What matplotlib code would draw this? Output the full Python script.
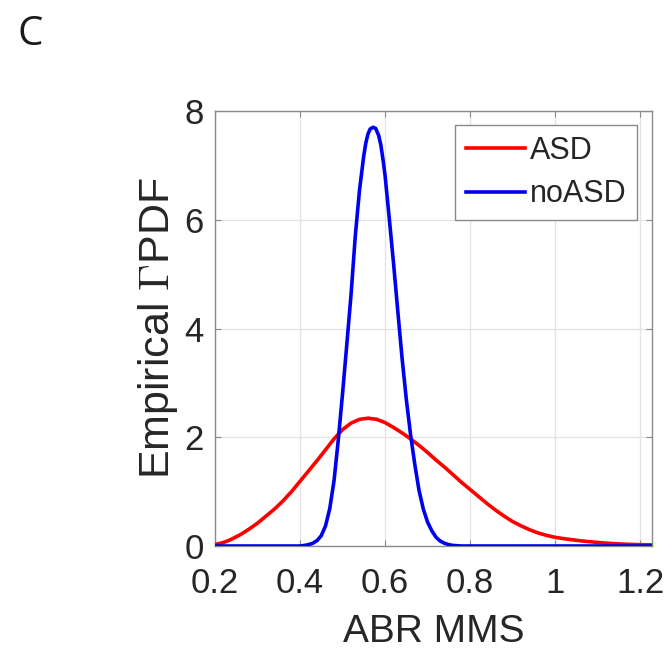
import matplotlib
matplotlib.use("Agg")
import matplotlib.pyplot as plt

# ---- data ----
asd_x = [0.20, 0.21, 0.22, 0.23, 0.24, 0.25, 0.26, 0.27, 0.28, 0.30, 0.32, 0.34,
         0.36, 0.38, 0.40, 0.42, 0.44, 0.46, 0.48, 0.50, 0.52, 0.54, 0.56, 0.58,
         0.60, 0.62, 0.64, 0.66, 0.68, 0.70, 0.72, 0.74, 0.76, 0.78, 0.80, 0.82,
         0.84, 0.86, 0.88, 0.90, 0.92, 0.94, 0.96, 0.98, 1.00, 1.02, 1.04, 1.06,
         1.08, 1.10, 1.12, 1.14, 1.16, 1.18, 1.20, 1.23]
asd_y = [0.03, 0.045, 0.065, 0.095, 0.13, 0.17, 0.21, 0.26, 0.31, 0.42, 0.55, 0.68,
         0.83, 1.00, 1.19, 1.38, 1.57, 1.77, 1.97, 2.14, 2.26, 2.33, 2.35, 2.33,
         2.27, 2.18, 2.08, 1.97, 1.85, 1.72, 1.58, 1.45, 1.31, 1.17, 1.04, 0.91,
         0.78, 0.66, 0.55, 0.45, 0.37, 0.30, 0.24, 0.195, 0.16, 0.135, 0.115, 0.095,
         0.08, 0.065, 0.053, 0.043, 0.035, 0.029, 0.024, 0.02]

noasd_x = [0.20, 0.30, 0.40, 0.41, 0.42, 0.43, 0.44, 0.45, 0.46, 0.47, 0.48, 0.49,
           0.50, 0.51, 0.52, 0.53, 0.54, 0.55, 0.555, 0.56, 0.565, 0.572, 0.578,
           0.585, 0.59, 0.595, 0.60, 0.61, 0.62, 0.63, 0.64, 0.65, 0.66, 0.67,
           0.68, 0.69, 0.70, 0.71, 0.72, 0.73, 0.74, 0.75, 0.76, 0.78, 0.80, 1.00,
           1.23]
noasd_y = [0.0, 0.0, 0.0, 0.01, 0.025, 0.05, 0.10, 0.19, 0.37, 0.69, 1.20, 1.95,
           2.80, 3.70, 4.62, 5.70, 6.55, 7.18, 7.42, 7.58, 7.67, 7.70, 7.68,
           7.55, 7.38, 7.12, 6.82, 6.02, 5.20, 4.32, 3.46, 2.70, 2.05, 1.50,
           1.02, 0.68, 0.44, 0.28, 0.16, 0.09, 0.05, 0.025, 0.01, 0.0, 0.0, 0.0,
           0.0]

series_labels = ["ASD", "noASD"]
x_ticks = [0.2, 0.4, 0.6, 0.8, 1.0, 1.2]
x_ticklabels = ["0.2", "0.4", "0.6", "0.8", "1", "1.2"]
y_ticks = [0, 2, 4, 6, 8]
y_ticklabels = ["0", "2", "4", "6", "8"]

plt.rcParams['font.family'] = ['Liberation Sans', 'DejaVu Sans']
plt.rcParams['mathtext.fontset'] = 'cm'

W, H = 669, 653
fig = plt.figure(figsize=(W / 100, H / 100), dpi=100)
L, R, T, B = 215, 652, 111, 546
ax = fig.add_axes([L / W, (H - B) / H, (R - L) / W, (B - T) / H])

ax.plot(asd_x, asd_y, color='#ff0000', lw=2.6, label=series_labels[0], zorder=3,
        solid_joinstyle='round')
ax.plot(noasd_x, noasd_y, color='#0000f0', lw=2.6, label=series_labels[1], zorder=4,
        solid_joinstyle='round')

ax.set_xlim(0.2, 1.228)
ax.set_ylim(0, 8)
ax.set_xticks(x_ticks)
ax.set_xticklabels(x_ticklabels)
ax.set_yticks(y_ticks)
ax.set_yticklabels(y_ticklabels)

ax.grid(True, color='#e3e3e3', lw=0.9)
ax.set_axisbelow(True)
for s in ax.spines.values():
    s.set_color('#8a8a8a')
    s.set_linewidth(1.0)
ax.tick_params(direction='in', length=4, width=0.8, color='#8a8a8a',
               top=True, right=True, labelsize=25, labelcolor='#262626')
ax.tick_params(axis='x', pad=15)
ax.tick_params(axis='y', pad=8)

ax.set_xlabel("ABR MMS", fontsize=28, color='#262626', labelpad=10)
ax.set_ylabel(r"Empirical $\Gamma$PDF", fontsize=31, color='#262626', labelpad=3)

leg = ax.legend(loc='upper right', bbox_to_anchor=(0.9657, 0.9678), borderaxespad=0,
                fontsize=22, handlelength=1.95, handletextpad=0.15, labelspacing=0.45,
                borderpad=0.35, fancybox=False, framealpha=1, edgecolor='#8a8a8a')
leg.get_frame().set_linewidth(1.0)
for t in leg.get_texts():
    t.set_color('#262626')

fig.text(17 / W, 1 - 45 / H, "C", fontsize=29, family=['Open Sans', 'DejaVu Sans'],
         color='#1a1a1a', ha='left', va='baseline')

fig.savefig("out.png", dpi=100)
